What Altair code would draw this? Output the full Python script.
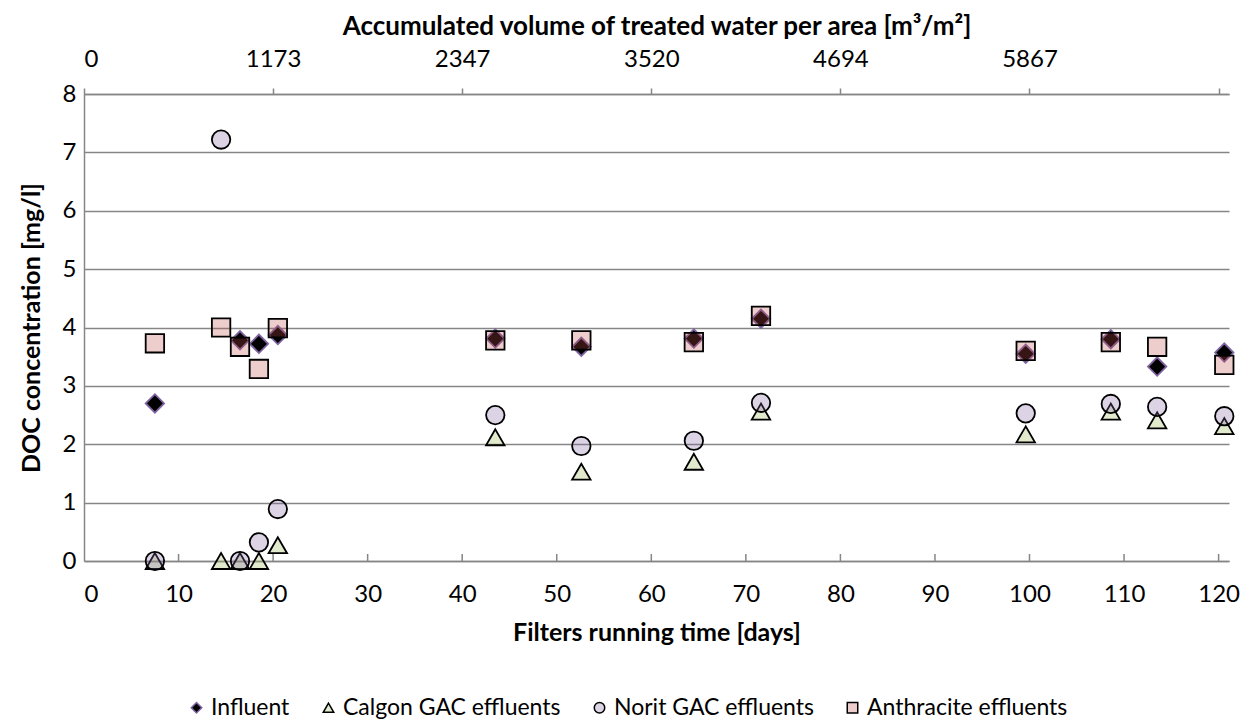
import altair as alt
import pandas as pd

# ---- data ----
series_names = ["Influent", "Calgon GAC effluents", "Norit GAC effluents", "Anthracite effluents"]

influent_days = [7.5, 16.5, 18.5, 20.5, 43.5, 52.6, 64.5, 71.6, 99.6, 108.6, 113.5, 120.6]
influent_doc = [2.70, 3.78, 3.72, 3.87, 3.81, 3.67, 3.81, 4.15, 3.55, 3.80, 3.33, 3.57]

calgon_days = [7.5, 14.5, 16.5, 18.5, 20.5, 43.5, 52.6, 64.5, 71.6, 99.6, 108.6, 113.5, 120.6]
calgon_doc = [0.0, 0.0, 0.0, 0.0, 0.27, 2.12, 1.53, 1.70, 2.56, 2.17, 2.56, 2.41, 2.31]

norit_days = [7.5, 14.5, 16.5, 18.5, 20.5, 43.5, 52.6, 64.5, 71.6, 99.6, 108.6, 113.5, 120.6]
norit_doc = [0.0, 7.22, 0.0, 0.32, 0.89, 2.50, 1.97, 2.06, 2.71, 2.53, 2.69, 2.64, 2.48]

anthracite_days = [7.5, 14.5, 16.5, 18.5, 20.5, 43.5, 52.6, 64.5, 71.6, 99.6, 108.6, 113.5, 120.6]
anthracite_doc = [3.73, 4.00, 3.67, 3.29, 3.99, 3.78, 3.78, 3.75, 4.20, 3.60, 3.75, 3.67, 3.36]

bottom_ticks = [0, 10, 20, 30, 40, 50, 60, 70, 80, 90, 100, 110, 120]
y_ticks = [0, 1, 2, 3, 4, 5, 6, 7, 8]
top_tick_days = [0, 20, 40, 60, 80, 100, 120]
top_tick_labels = ["0", "1173", "2347", "3520", "4694", "5867", ""]

# ---- styling ----
FONT = "Lato"
GRAY = "#868686"
W, H = 1145, 467
XDOM = [0, 121.1]

fills = ["#000000", "#9bbb59", "#8064a2", "#c0504d"]
fill_opacities = [1.0, 0.3, 0.28, 0.28]
legend_fills = ["#000000", "#e1ebcd", "#dcd3e5", "#edcecd"]
strokes = ["#8064a2", "#000000", "#000000", "#000000"]
shapes = ["diamond", "triangle-up", "circle", "square"]

rows = []
for name, ds, vs in [
    (series_names[0], influent_days, influent_doc),
    (series_names[1], calgon_days, calgon_doc),
    (series_names[2], norit_days, norit_doc),
    (series_names[3], anthracite_days, anthracite_doc),
]:
    for d, v in zip(ds, vs):
        rows.append({"series": name, "day": d, "doc": v})
df = pd.DataFrame(rows)

ticks_df = pd.DataFrame({"t": bottom_ticks[1:]})

label_expr = " : ".join(
    f"datum.value == {d} ? '{l}'" for d, l in zip(top_tick_days, top_tick_labels)
) + " : ''"

xscale = alt.Scale(domain=XDOM, nice=False, zero=False)

bottom_axis = alt.Axis(
    orient="bottom",
    values=bottom_ticks,
    title="Filters running time [days]",
    ticks=False,
    grid=False,
    labelPadding=21,
    titlePadding=14,
)

y_enc = alt.Y(
    "doc:Q",
    scale=alt.Scale(domain=[0, 8], nice=False),
    axis=alt.Axis(
        values=y_ticks,
        title="DOC concentration [mg/l]",
        ticks=False,
        grid=True,
        labelPadding=8,
        titlePadding=18,
    ),
)

series_layers = []
for i, name in enumerate(series_names):
    layer = (
        alt.Chart(df)
        .transform_filter(alt.datum.series == name)
        .mark_point(
            filled=True,
            shape=shapes[i],
            fill=fills[i],
            fillOpacity=fill_opacities[i],
            stroke=strokes[i],
            strokeWidth=1.8,
            opacity=1,
            size=340,
        )
        .encode(
            x=alt.X("day:Q", scale=xscale, axis=bottom_axis if i == 0 else None),
            y=y_enc,
        )
    )
    series_layers.append(layer)

legend = alt.Legend(
    orient="none",
    legendX=101,
    legendY=602,
    direction="horizontal",
    title=None,
    labelFont=FONT,
    labelFontSize=23,
    labelColor="#000000",
    labelLimit=0,
    symbolSize=110,
    symbolStrokeWidth=1.5,
    columnPadding=27,
    labelOffset=3,
    padding=0,
)

legend_layer = alt.Chart(df).transform_filter("false").mark_point(
    filled=True, strokeWidth=1.5, opacity=1
).encode(
    shape=alt.Shape("series:N", scale=alt.Scale(domain=series_names, range=shapes), legend=legend),
    fill=alt.Fill("series:N", scale=alt.Scale(domain=series_names, range=legend_fills), legend=legend),
    stroke=alt.Stroke("series:N", scale=alt.Scale(domain=series_names, range=strokes), legend=legend),
)

top = alt.Chart(df).mark_point(opacity=0).encode(
    x=alt.X(
        "day:Q",
        scale=xscale,
        axis=alt.Axis(
            orient="top",
            values=top_tick_days,
            labelExpr=label_expr,
            title="Accumulated volume of treated water per area [m³/m²]",
            ticks=True,
            tickSize=6,
            grid=False,
            labelPadding=17,
            titlePadding=8,
            titleFontSize=26,
        ),
    ),
)

inner_ticks = alt.Chart(ticks_df).mark_rule(color=GRAY, strokeWidth=1.5).encode(
    x=alt.X("t:Q", scale=xscale, axis=None),
    y=alt.value(H),
    y2=alt.value(H - 7),
)

chart = (
    alt.layer(*series_layers, top, inner_ticks, legend_layer)
    .resolve_scale(x="independent")
    .properties(
        width=W,
        height=H,
        padding={"left": 76, "top": 86, "right": 20, "bottom": 158},
        autosize=alt.AutoSizeParams(type="none"),
    )
    .configure_view(strokeWidth=0)
    .configure_axis(
        labelFont=FONT,
        labelFontSize=24,
        labelColor="#000000",
        titleFont=FONT,
        titleFontSize=25,
        titleFontWeight="bold",
        titleColor="#000000",
        domainColor=GRAY,
        domainWidth=1.5,
        gridColor=GRAY,
        gridWidth=1.3,
        tickColor=GRAY,
        tickWidth=1.5,
    )
)

chart.save("out.html", embed_options={"renderer": "svg", "actions": False})
